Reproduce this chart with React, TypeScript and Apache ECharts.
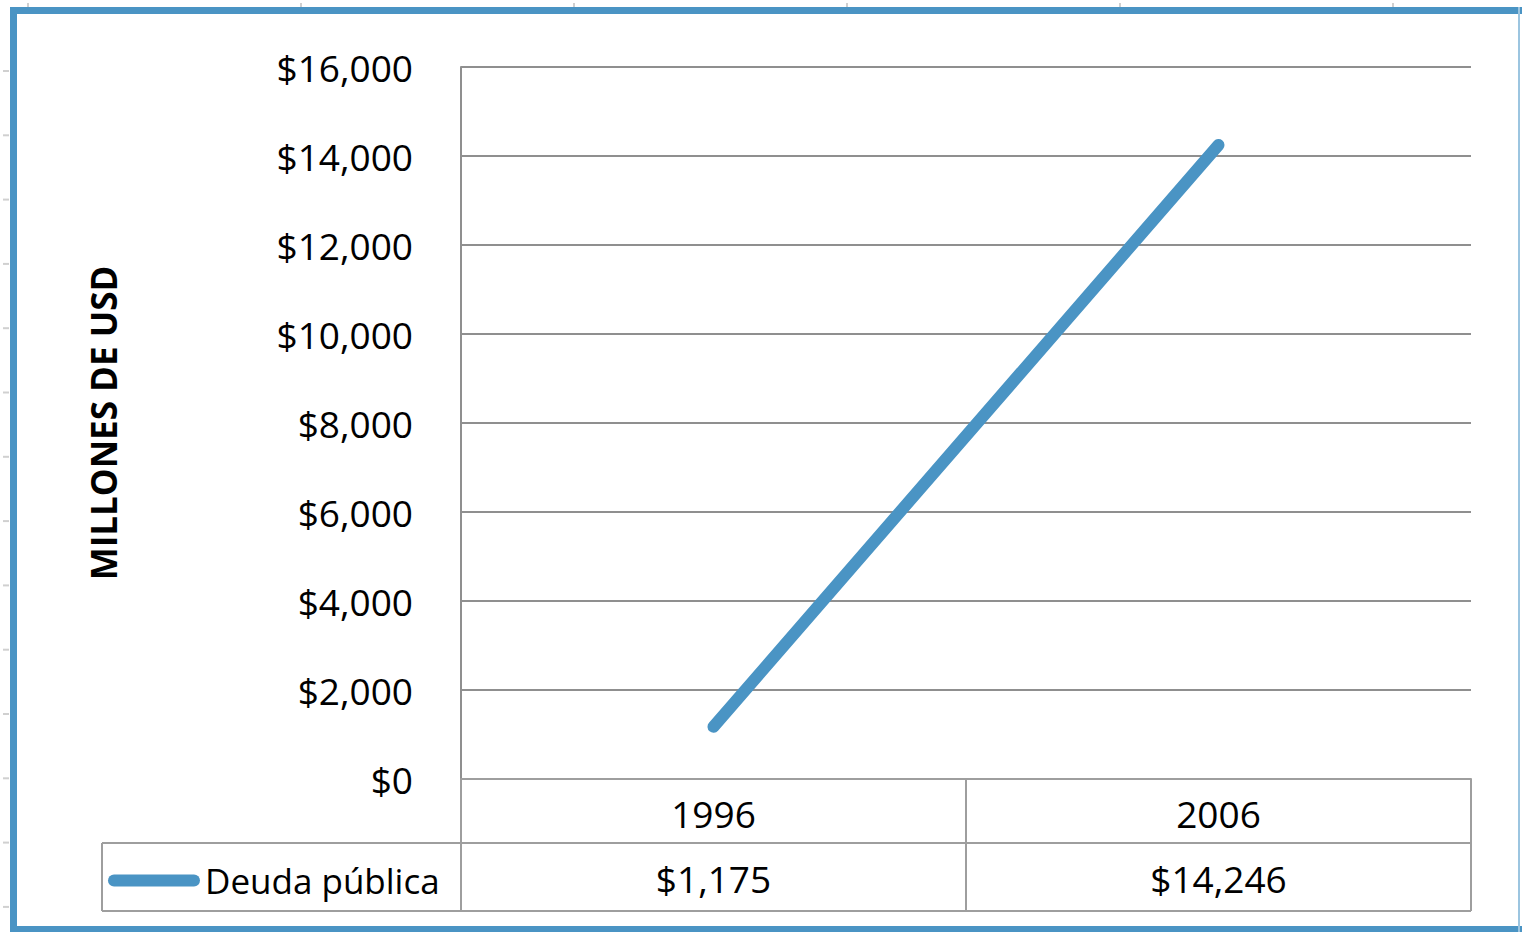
import React, { useEffect, useRef } from "react";
import * as echarts from "echarts";

const categories = ["1996", "2006"];
const deudaPublica = [1175, 14246];
const seriesName = "Deuda pública";
const axisTitle = "MILLONES DE USD";
const yMin = 0;
const yMax = 16000;
const yStep = 2000;

const BLUE = "#4a94c4";
const GRID = "#8f8f8f";
const TABLE = "#9e9e9e";
const FONT = "'Open Sans', 'Liberation Sans', sans-serif";

const money = (v: number) => "$" + Math.round(v).toLocaleString("en-US");

export default function App() {
  const ref = useRef<HTMLDivElement>(null);
  useEffect(() => {
    if (!ref.current) return;
    const chart = echarts.init(ref.current, null, { renderer: "svg" });

    const leftTicks: any[] = [];
    for (let i = 0; i < 14; i++) {
      const y = 71 + i * 64.3;
      leftTicks.push({ type: "line", shape: { x1: 3, y1: y, x2: 9, y2: y }, style: { stroke: "#d0d0d0", lineWidth: 2 }, silent: true });
    }
    const topTicks: any[] = [];
    for (let i = 0; i < 6; i++) {
      const x = 28 + i * 273;
      topTicks.push({ type: "line", shape: { x1: x, y1: 3, x2: x, y2: 7 }, style: { stroke: "#d0d0d0", lineWidth: 2 }, silent: true });
    }

    chart.setOption({
      animation: false,
      backgroundColor: "#ffffff",
      textStyle: { fontFamily: FONT },
      grid: { left: 461, top: 67, width: 1010, height: 712, containLabel: false },
      legend: {
        show: true,
        left: 103,
        top: 858,
        itemWidth: 92,
        itemHeight: 12,
        itemGap: 5,
        icon: "path://M6,0 H86 A6,6 0 0 1 86,12 H6 A6,6 0 0 1 6,0 Z",
        textStyle: { fontFamily: FONT, fontSize: 35, color: "#000" },
        data: [seriesName],
      },
      xAxis: [
        {
          type: "category",
          data: categories,
          position: "bottom",
          boundaryGap: true,
          axisLine: { show: true, lineStyle: { color: TABLE, width: 2 } },
          axisTick: { show: true, interval: 0, length: 132, lineStyle: { color: TABLE, width: 2 } },
          axisLabel: { show: true, interval: 0, margin: 16, fontFamily: FONT, fontSize: 37, color: "#000" },
          splitLine: { show: false },
        },
        {
          type: "category",
          data: categories,
          position: "bottom",
          offset: 64,
          boundaryGap: true,
          axisLine: { show: false },
          axisTick: { show: false },
          axisLabel: {
            show: true,
            interval: 0,
            margin: 17,
            fontFamily: FONT,
            fontSize: 37,
            color: "#000",
            formatter: (_v: string, i: number) => money(deudaPublica[i]),
          },
          splitLine: { show: false },
        },
      ],
      yAxis: {
        type: "value",
        min: yMin,
        max: yMax,
        interval: yStep,
        name: axisTitle,
        nameLocation: "middle",
        nameRotate: 90,
        nameGap: 340,
        nameTextStyle: { fontFamily: FONT, fontSize: 35, fontWeight: "bold", color: "#000" },
        axisLine: { show: true, lineStyle: { color: GRID, width: 2 } },
        axisTick: { show: false },
        axisLabel: { margin: 48, fontFamily: FONT, fontSize: 37, color: "#000", formatter: (v: number) => money(v) },
        splitLine: { show: true, lineStyle: { color: GRID, width: 2 } },
      },
      series: [
        {
          name: seriesName,
          type: "line",
          data: deudaPublica,
          xAxisIndex: 0,
          showSymbol: false,
          symbol: "none",
          lineStyle: { color: BLUE, width: 12, cap: "round", join: "round" },
          itemStyle: { color: BLUE },
        },
      ],
      graphic: [
        { type: "line", shape: { x1: 102, y1: 843, x2: 1471, y2: 843 }, style: { stroke: TABLE, lineWidth: 2 }, silent: true },
        { type: "line", shape: { x1: 102, y1: 911, x2: 1471, y2: 911 }, style: { stroke: TABLE, lineWidth: 2 }, silent: true },
        { type: "line", shape: { x1: 102, y1: 843, x2: 102, y2: 911 }, style: { stroke: TABLE, lineWidth: 2 }, silent: true },
        { type: "rect", shape: { x: 10, y: 7, width: 7, height: 925 }, style: { fill: BLUE }, silent: true },
        { type: "rect", shape: { x: 10, y: 7, width: 1512, height: 7 }, style: { fill: BLUE }, silent: true },
        { type: "rect", shape: { x: 10, y: 926, width: 1512, height: 6 }, style: { fill: BLUE }, silent: true },
        { type: "rect", shape: { x: 1518, y: 7, width: 2, height: 925 }, style: { fill: "#9cc5e0" }, silent: true },
        ...leftTicks,
        ...topTicks,
      ],
    });
    return () => chart.dispose();
  }, []);
  return (
    <div
      ref={ref}
      style={{ position: "fixed", left: 0, top: 0, width: 1522, height: 932, background: "#fff" }}
    />
  );
}
